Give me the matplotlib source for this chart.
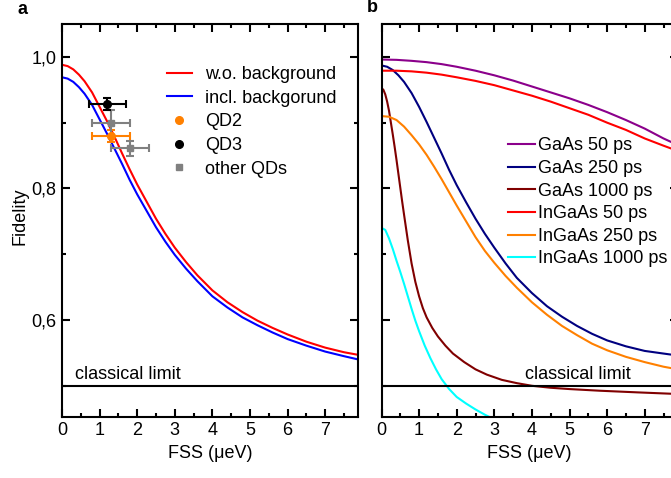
import numpy as np
import matplotlib.pyplot as plt
from matplotlib.lines import Line2D
from matplotlib.ticker import MultipleLocator

plt.rcParams['font.family'] = ['Liberation Sans', 'DejaVu Sans']
plt.rcParams['font.size'] = 13

# ---- panel a: model curves (FSS in ueV, fidelity) ----
fss_a = [0, 0.15, 0.3, 0.45, 0.6, 0.8, 1.0, 1.2, 1.4, 1.6, 1.8, 2.0, 2.25, 2.5, 2.75,
         3.0, 3.3, 3.6, 4.0, 4.4, 4.8, 5.2, 5.6, 6.0, 6.5, 7.0, 7.5, 7.88]
fid_wo_bg = [0.988, 0.986, 0.981, 0.973, 0.963, 0.946, 0.924, 0.902, 0.878, 0.853,
             0.829, 0.806, 0.780, 0.754, 0.731, 0.710, 0.688, 0.668, 0.645, 0.627,
             0.612, 0.599, 0.588, 0.578, 0.567, 0.558, 0.551, 0.547]
fid_incl_bg = [0.969, 0.967, 0.962, 0.954, 0.944, 0.927, 0.905, 0.883, 0.860, 0.837,
               0.813, 0.791, 0.766, 0.741, 0.719, 0.699, 0.678, 0.659, 0.636, 0.619,
               0.604, 0.592, 0.581, 0.571, 0.561, 0.552, 0.545, 0.540]

# ---- panel a: measured quantum dots ----
qd2_fss, qd2_fid, qd2_xerr, qd2_yerr = [1.31], [0.880], [0.51], [0.009]
qd3_fss, qd3_fid, qd3_xerr, qd3_yerr = [1.21], [0.929], [0.50], [0.009]
other_fss = [1.30, 1.81]
other_fid = [0.899, 0.861]
other_xerr = [0.50, 0.51]
other_yerr = [0.020, 0.011]

# ---- panel b: simulated curves ----
gaas50_x = [0, 0.4, 0.8, 1.2, 1.6, 2.0, 2.5, 3.0, 3.5, 4.0, 4.5, 5.0, 5.5, 6.0, 6.5,
            7.0, 7.5, 7.88]
gaas50_y = [0.996, 0.9955, 0.994, 0.992, 0.989, 0.985, 0.979, 0.972, 0.964, 0.955,
            0.946, 0.937, 0.927, 0.916, 0.904, 0.891, 0.876, 0.866]
ingaas50_x = [0, 0.4, 0.8, 1.2, 1.6, 2.0, 2.5, 3.0, 3.5, 4.0, 4.5, 5.0, 5.5, 6.0, 6.5,
              7.0, 7.5, 7.88]
ingaas50_y = [0.979, 0.979, 0.978, 0.976, 0.973, 0.969, 0.9635, 0.957, 0.949, 0.941,
              0.932, 0.922, 0.912, 0.900, 0.889, 0.876, 0.865, 0.857]
gaas250_x = [0, 0.15, 0.3, 0.45, 0.6, 0.8, 1.0, 1.2, 1.4, 1.6, 1.8, 2.0, 2.25, 2.5,
             2.75, 3.0, 3.3, 3.6, 4.0, 4.4, 4.8, 5.2, 5.6, 6.0, 6.5, 7.0, 7.5, 7.88]
gaas250_y = [0.987, 0.985, 0.980, 0.972, 0.962, 0.945, 0.924, 0.901, 0.877, 0.853,
             0.828, 0.805, 0.779, 0.754, 0.731, 0.710, 0.686, 0.664, 0.641, 0.621,
             0.605, 0.591, 0.579, 0.569, 0.560, 0.553, 0.549, 0.546]
gaas1000_x = [0, 0.05, 0.1, 0.15, 0.2, 0.25, 0.3, 0.35, 0.4, 0.45, 0.5, 0.55, 0.6,
              0.7, 0.8, 0.9, 1.0, 1.1, 1.2, 1.35, 1.5, 1.7, 1.9, 2.2, 2.5, 2.8, 3.2,
              3.6, 4.0, 4.5, 5.0, 5.8, 6.8, 7.88]
gaas1000_y = [0.9525, 0.950, 0.943, 0.932, 0.918, 0.900, 0.882, 0.863, 0.843, 0.822,
              0.801, 0.780, 0.760, 0.721, 0.686, 0.658, 0.636, 0.618, 0.604, 0.588,
              0.575, 0.561, 0.549, 0.536, 0.525, 0.517, 0.509, 0.504, 0.500, 0.497,
              0.495, 0.4925, 0.490, 0.4875]
ingaas250_x = [0, 0.2, 0.4, 0.6, 0.8, 1.0, 1.2, 1.4, 1.6, 1.8, 2.0, 2.25, 2.5, 2.75,
               3.0, 3.3, 3.6, 4.0, 4.4, 4.8, 5.2, 5.6, 6.0, 6.5, 7.0, 7.5, 7.88]
ingaas250_y = [0.910, 0.909, 0.904, 0.894, 0.881, 0.867, 0.851, 0.833, 0.814, 0.794,
               0.774, 0.750, 0.726, 0.705, 0.687, 0.667, 0.649, 0.627, 0.608, 0.591,
               0.577, 0.564, 0.554, 0.544, 0.536, 0.529, 0.525]
ingaas1000_x = [0, 0.1, 0.2, 0.3, 0.4, 0.5, 0.6, 0.7, 0.8, 0.9, 1.0, 1.15, 1.3, 1.45,
                1.6, 1.8, 2.0, 2.25, 2.5, 2.75, 3.0]
ingaas1000_y = [0.740, 0.737, 0.724, 0.708, 0.690, 0.673, 0.655, 0.636, 0.617, 0.599,
                0.583, 0.561, 0.542, 0.525, 0.510, 0.495, 0.483, 0.473, 0.464, 0.456,
                0.449]

classical_limit = 0.5
fss_ticks = [0, 1, 2, 3, 4, 5, 6, 7]
fid_ticks = [0.6, 0.8, 1.0]
fid_labels = ['0,6', '0,8', '1,0']

W, H = 671, 478
fig = plt.figure(figsize=(W / 100, H / 100), dpi=100)
ax_a = fig.add_axes([62 / W, (H - 416.7) / H, 296.3 / W, 392.7 / H])
ax_b = fig.add_axes([381.5 / W, (H - 416.7) / H, 296.3 / W, 392.7 / H])


def style_axes(ax, ylabels):
    ax.set_xlim(0, 7.88)
    ax.set_ylim(0.453, 1.05)
    ax.set_xticks(fss_ticks)
    ax.set_xticklabels([str(t) for t in fss_ticks])
    ax.set_yticks(fid_ticks)
    ax.set_yticklabels(fid_labels if ylabels else [])
    ax.xaxis.set_minor_locator(MultipleLocator(0.5))
    ax.yaxis.set_minor_locator(MultipleLocator(0.1))
    ax.tick_params(which='both', direction='in', top=True, right=True, width=1.5,
                   pad=4, labelsize=13)
    ax.tick_params(which='major', length=6)
    ax.tick_params(which='minor', length=3)
    for s in ax.spines.values():
        s.set_linewidth(1.5)
    ax.axhline(classical_limit, color='black', lw=1.5, zorder=4)
    ax.set_xlabel('FSS (μeV)', labelpad=4)


# panel a
ax_a.plot(fss_a, fid_wo_bg, color='#ff0000', lw=1.5)
ax_a.plot(fss_a, fid_incl_bg, color='#0000ff', lw=1.5)
eb = dict(capsize=3, elinewidth=1.5, capthick=1.5, zorder=5)
ax_a.errorbar(qd2_fss, qd2_fid, xerr=qd2_xerr, yerr=qd2_yerr, fmt='o', ms=5.5,
              color='#ff8000', **eb)
ax_a.errorbar(other_fss, other_fid, xerr=other_xerr, yerr=other_yerr, fmt='s', ms=5,
              color='#808080', **eb)
ax_a.errorbar(qd3_fss, qd3_fid, xerr=qd3_xerr, yerr=qd3_yerr, fmt='o', ms=5.5,
              color='black', **eb)
style_axes(ax_a, True)
ax_a.text(0.34, 0.511, 'classical limit', ha='left', va='baseline')

handles = [
    Line2D([], [], color='#ff0000', lw=1.5),
    Line2D([], [], color='#0000ff', lw=1.5),
    Line2D([], [], color='#ff8000', marker='o', ls='none', ms=5.5),
    Line2D([], [], color='black', marker='o', ls='none', ms=5.5),
    Line2D([], [], color='#808080', marker='s', ls='none', ms=4.5),
]
labels = ['w.o. background', 'incl. backgorund', 'QD2', 'QD3', 'other QDs']
ax_a.legend(handles, labels, loc='upper left', bbox_to_anchor=(0.354, 0.893),
            frameon=False, borderpad=0, borderaxespad=0, handlelength=1.38,
            handletextpad=0.72, labelspacing=0.37, fontsize=13)

# panel b
ax_b.plot(gaas50_x, gaas50_y, color='#8b008b', lw=1.5, label='GaAs 50 ps')
ax_b.plot(gaas250_x, gaas250_y, color='#000080', lw=1.5, label='GaAs 250 ps')
ax_b.plot(gaas1000_x, gaas1000_y, color='#800000', lw=1.5, label='GaAs 1000 ps')
ax_b.plot(ingaas50_x, ingaas50_y, color='#ff0000', lw=1.5, label='InGaAs 50 ps')
ax_b.plot(ingaas250_x, ingaas250_y, color='#ff8000', lw=1.5, label='InGaAs 250 ps')
ax_b.plot(ingaas1000_x, ingaas1000_y, color='#00ffff', lw=1.5, label='InGaAs 1000 ps')
style_axes(ax_b, False)
ax_b.text(3.82, 0.511, 'classical limit', ha='left', va='baseline')
ax_b.legend(loc='upper left', bbox_to_anchor=(0.427, 0.711), frameon=False,
            borderpad=0, borderaxespad=0, handlelength=1.5, handletextpad=0.17,
            labelspacing=0.31, fontsize=13)

fig.text(20 / W, 1 - 216 / H, 'Fidelity', rotation=90, ha='center', va='center')
fig.text(23 / W, 1 - 10 / H, 'a', fontweight='bold', ha='center', va='center')
fig.text(372 / W, 1 - 7 / H, 'b', fontweight='bold', ha='center', va='center')

fig.savefig('out.png', dpi=100)
